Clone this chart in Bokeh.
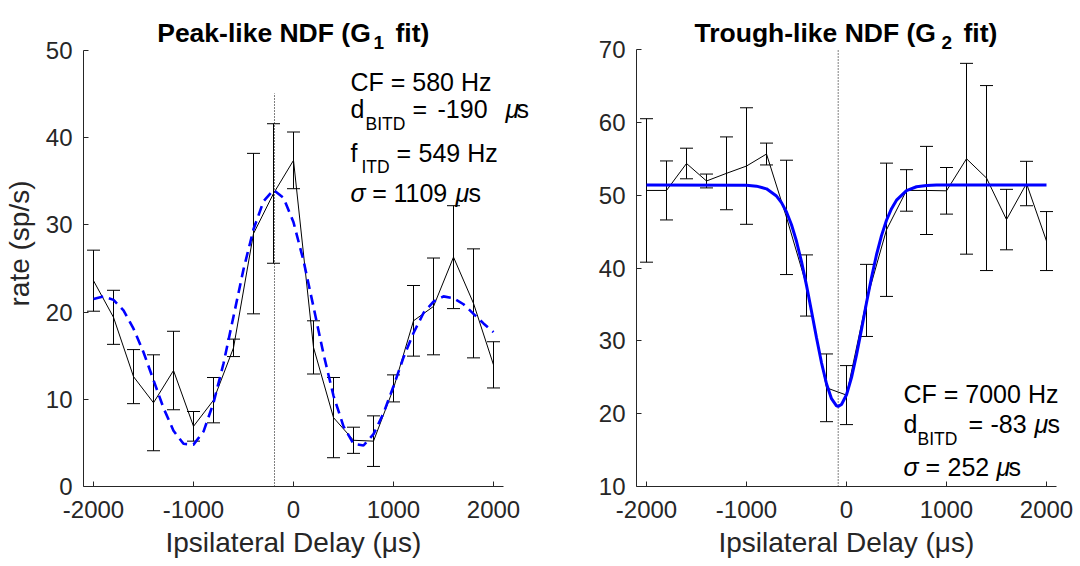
from bokeh.plotting import figure
from bokeh.models import Range1d, FixedTicker, Whisker, TeeHead, ColumnDataSource, Label, Title
from bokeh.layouts import row
from bokeh.embed import file_html
from bokeh.resources import INLINE

# ---------------- data ----------------
delays = [-2000, -1800, -1600, -1400, -1200, -1000, -800, -600, -400, -200, 0,
          200, 400, 600, 800, 1000, 1200, 1400, 1600, 1800, 2000]

peak_rate = [23.6, 19.4, 12.6, 9.6, 13.3, 6.9, 9.9, 15.9, 29.0, 33.6, 37.4,
             15.95, 7.9, 5.3, 5.2, 11.25, 19.0, 20.65, 26.3, 21.0, 13.95]
peak_err = [3.5, 3.1, 3.1, 5.5, 4.5, 1.7, 2.6, 1.0, 9.2, 8.0, 3.25,
            3.05, 4.6, 1.5, 2.9, 1.55, 4.05, 5.55, 5.9, 6.25, 2.65]

trough_rate = [50.65, 50.65, 54.35, 51.95, 53.0, 54.0, 55.65, 46.95, 37.6, 23.55, 22.55,
               35.55, 45.25, 50.65, 50.65, 50.6, 55.0, 52.35, 46.65, 51.6, 43.7]
trough_err = [9.85, 4.05, 2.1, 0.95, 5.0, 8.0, 1.5, 7.85, 4.2, 4.65, 4.05,
              4.95, 9.15, 2.85, 6.05, 3.2, 13.1, 12.7, 4.15, 3.05, 4.05]

# fitted curves
peak_fit_x = [-2000, -1900, -1800, -1700, -1600, -1500, -1400, -1300, -1200, -1100,
              -1000, -900, -800, -700, -600, -500, -400, -300, -200, -100,
              0, 100, 200, 300, 400, 500, 600, 700, 800, 900,
              1000, 1100, 1200, 1300, 1400, 1500, 1600, 1700, 1800, 1900, 2000]
peak_fit_y = [21.5, 21.8, 21.4, 20.2, 18.1, 15.4, 12.2, 9.0, 6.4, 4.9,
              4.8, 6.3, 9.6, 14.1, 19.5, 24.9, 29.5, 32.7, 34.0, 33.1,
              30.3, 25.9, 20.6, 15.2, 10.4, 6.9, 4.9, 4.7, 6.0, 8.4,
              11.5, 14.8, 17.6, 19.9, 21.2, 21.8, 21.6, 20.9, 19.8, 18.7, 17.7]

trough_fit_x = [-2000, -1000, -900, -800, -700, -650, -600, -550, -500, -450,
                -400, -350, -300, -250, -200, -150, -100, -83, -50, 0,
                50, 100, 150, 200, 250, 300, 350, 400, 450, 500,
                600, 700, 800, 900, 1000, 2000]
trough_fit_y = [51.4, 51.36, 51.24, 50.87, 49.88, 48.98, 47.69, 45.94, 43.67, 40.87,
                37.62, 34.06, 30.42, 26.99, 24.11, 22.06, 21.07, 21.0, 21.26, 22.6,
                24.95, 28.05, 31.57, 35.22, 38.7, 41.82, 44.45, 46.56, 48.15, 49.31,
                50.63, 51.16, 51.33, 51.39, 51.4, 51.4]

peak_bitd = -190
trough_bitd = -83

x_ticks = [-2000, -1000, 0, 1000, 2000]
x_tick_labels = {-2000: "-2000", -1000: "-1000", 0: "0", 1000: "1000", 2000: "2000"}
peak_yticks = [0, 10, 20, 30, 40, 50]
trough_yticks = [10, 20, 30, 40, 50, 60, 70]

FONT = "Liberation Sans"
AX = "#262626"


def make_fig(width, xr, yr, ybounds, yticks, bl, ylabel):
    p = figure(width=width, height=566, x_range=Range1d(*xr),
               y_range=Range1d(*yr), output_backend="svg", toolbar_location=None,
               min_border_left=bl, min_border_right=0, min_border_top=0,
               min_border_bottom=80)
    p.outline_line_color = None
    p.grid.visible = False
    p.background_fill_color = "white"
    p.border_fill_color = "white"
    for ax in (p.xaxis[0], p.yaxis[0]):
        ax.axis_line_color = AX
        ax.axis_line_width = 1
        ax.major_tick_line_color = AX
        ax.major_tick_in = 5
        ax.major_tick_out = 0
        ax.minor_tick_line_color = None
        ax.major_label_text_font = FONT
        ax.major_label_text_font_size = "24px"
        ax.major_label_text_color = AX
        ax.axis_label_text_font = FONT
        ax.axis_label_text_font_size = "28px"
        ax.axis_label_text_font_style = "normal"
        ax.axis_label_text_color = AX
    p.xaxis.ticker = FixedTicker(ticks=x_ticks)
    p.xaxis.major_label_overrides = x_tick_labels
    p.xaxis.bounds = (-2100, 2100)
    p.yaxis.ticker = FixedTicker(ticks=yticks)
    p.yaxis.bounds = ybounds
    p.xaxis.major_label_standoff = 14
    p.yaxis.major_label_standoff = 11
    p.yaxis.axis_label_standoff = 8
    if ylabel:
        p.yaxis.axis_label = ylabel
    # x-axis label placed as a below-title so it can be centred on the axis line
    p.add_layout(Title(text="Ipsilateral Delay (\u03bcs)", align="left", offset=82,
                       vertical_align="bottom",
                       text_font=FONT, text_font_size="28px", text_font_style="normal",
                       text_color=AX, standoff=9), "below")
    return p


def add_data(p, rate, err):
    src = ColumnDataSource(dict(x=delays, y=rate,
                                upper=[r + e for r, e in zip(rate, err)],
                                lower=[r - e for r, e in zip(rate, err)]))
    w = Whisker(source=src, base="x", upper="upper", lower="lower",
                line_color="black", line_width=1,
                upper_head=TeeHead(size=13, line_color="black", line_width=1),
                lower_head=TeeHead(size=13, line_color="black", line_width=1))
    p.add_layout(w)
    p.line("x", "y", source=src, line_color="black", line_width=1)


def lab(p, x, y, text, size="25px", style="normal", color="black"):
    p.add_layout(Label(x=x, y=y, text=text, text_font=FONT, text_font_size=size,
                       text_font_style=style, text_color=color,
                       text_align="left", text_baseline="alphabetic"))


SUB = "17.5px"
TT = "26.5px"

# ---------------- left panel ----------------
p1 = make_fig(540, (-2100, 2470), (0, 55.73), (0, 50), peak_yticks, 83, "rate (sp/s)")
add_data(p1, peak_rate, peak_err)
p1.segment(x0=[peak_bitd], y0=[0], x1=[peak_bitd], y1=[45.1],
           line_color="black", line_width=1, line_dash="1 2")
p1.line(peak_fit_x, peak_fit_y, line_color="#0000ff", line_width=2.6, line_dash="10 6")

lab(p1, -1363, 51.95, "Peak-like NDF (G", TT, "bold")
lab(p1, 800, 50.92, "1", "19px", "bold")
lab(p1, 1020, 51.95, "fit)", TT, "bold")

lab(p1, 570, 46.44, "CF = 580 Hz")
lab(p1, 570, 43.3, "d")
lab(p1, 720, 41.6, "BITD", SUB)
lab(p1, 1190, 43.3, "=")
lab(p1, 1440, 43.3, "-190")
lab(p1, 2120, 43.3, "\u03bc", "25px", "italic")
lab(p1, 2230, 43.3, "s")
lab(p1, 570, 38.3, "f")
lab(p1, 680, 36.6, "ITD", SUB)
lab(p1, 1030, 38.3, "=")
lab(p1, 1250, 38.3, "549 Hz")
lab(p1, 570, 33.6, "\u03c3", "25px", "italic")
lab(p1, 787, 33.6, "=")
lab(p1, 1000, 33.6, "1109")
lab(p1, 1620, 33.6, "\u03bc", "25px", "italic")
lab(p1, 1750, 33.6, "s")

# ---------------- right panel ----------------
p2 = make_fig(540, (-2100, 2340), (10, 76.73), (10, 70), trough_yticks, 96, None)
add_data(p2, trough_rate, trough_err)
p2.segment(x0=[trough_bitd], y0=[10], x1=[trough_bitd], y1=[70],
           line_color="black", line_width=1, line_dash="1 2")
p2.line(trough_fit_x, trough_fit_y, line_color="#0000ff", line_width=3)

lab(p2, -1520, 72.2, "Trough-like NDF (G", TT, "bold")
lab(p2, 950, 70.96, "2", "19px", "bold")
lab(p2, 1170, 72.2, "fit)", TT, "bold")

lab(p2, 570, 22.73, "CF = 7000 Hz")
lab(p2, 570, 18.61, "d")
lab(p2, 710, 16.55, "BITD", SUB)
lab(p2, 1220, 18.61, "=")
lab(p2, 1440, 18.61, "-83")
lab(p2, 1880, 18.61, "\u03bc", "25px", "italic")
lab(p2, 2010, 18.61, "s")
lab(p2, 570, 12.65, "\u03c3", "25px", "italic")
lab(p2, 790, 12.65, "=")
lab(p2, 1010, 12.65, "252")
lab(p2, 1500, 12.65, "\u03bc", "25px", "italic")
lab(p2, 1620, 12.65, "s")

layout = row(p1, p2)
open("out.html", "w").write(file_html(layout, INLINE))
